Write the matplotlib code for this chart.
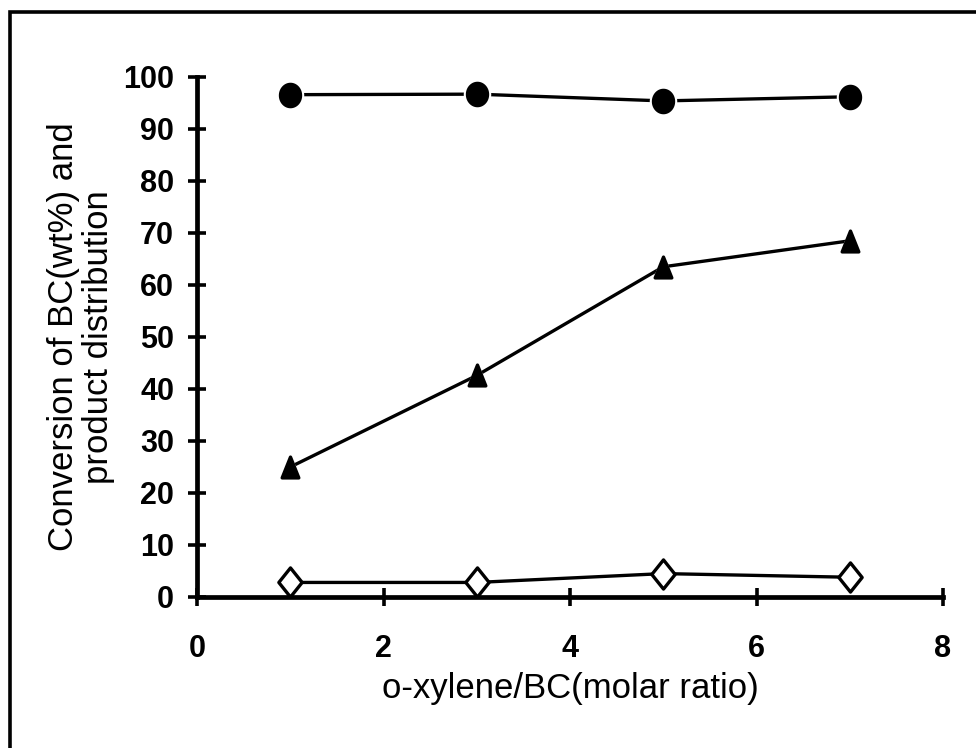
import matplotlib
matplotlib.use("Agg")
import matplotlib.pyplot as plt
from matplotlib.path import Path
from matplotlib.patches import Rectangle
import numpy as np

# Molar ratio o-xylene / BC
ratio = [1, 3, 5, 7]
# Conversion of BC (wt%)
conversion = [96.6, 96.7, 95.4, 96.2]
# Product distribution
product_a = [25.0, 42.6, 63.5, 68.5]
product_b = [2.8, 2.8, 4.5, 3.8]

x_ticks = [0, 2, 4, 6, 8]
y_ticks = list(range(0, 101, 10))

plt.rcParams['font.family'] = ['Liberation Sans', 'DejaVu Sans']

# slightly tall marker shapes
t = np.linspace(0, 2 * np.pi, 60)
ellipse = Path(np.column_stack([0.9 * np.cos(t), np.sin(t)]), closed=True)
tri = Path([(0, 1), (-0.8, -1), (0.8, -1), (0, 1)], closed=True)
diamond = Path([(0, 1), (0.8, 0), (0, -1), (-0.8, 0), (0, 1)], closed=True)

fig = plt.figure(figsize=(9.76, 7.48), dpi=100)
ax = fig.add_axes([197 / 976, 1 - 597 / 748, (943 - 197) / 976, (597 - 77) / 748])

# outer frame
fig.patches.append(Rectangle((10 / 976, -0.2), 1.2, 1.2 - 12 / 748,
                             transform=fig.transFigure, fill=False,
                             edgecolor='black', linewidth=2.6, zorder=0))

series = [
    (conversion, ellipse, 16, 'black', 22),
    (product_a, tri, 15, 'black', 21),
    (product_b, diamond, 21, 'white', 21),
]
for yv, mk, ms, fc, halo in series:
    ax.plot(ratio, yv, color='black', lw=2.4, zorder=2, solid_capstyle='butt')
    if fc == 'black':
        ax.plot(ratio, yv, ls='none', marker=mk, ms=halo, mfc='white',
                mec='white', mew=0, zorder=3)
    ax.plot(ratio, yv, ls='none', marker=mk, ms=ms, mfc=fc, mec='black',
            mew=2.4, zorder=4)

ax.set_xlim(0, 8)
ax.set_ylim(0, 100)
ax.set_xticks(x_ticks)
ax.set_yticks(y_ticks)
for s in ['top', 'right']:
    ax.spines[s].set_visible(False)
for s in ['left', 'bottom']:
    ax.spines[s].set_linewidth(3.4)
ax.tick_params(axis='both', direction='inout', length=13, width=2.6,
               labelsize=22)
ax.tick_params(axis='x', pad=20)
ax.tick_params(axis='y', pad=10)
for lab in ax.get_xticklabels() + ax.get_yticklabels():
    lab.set_fontweight('bold')

ax.set_xlabel('o-xylene/BC(molar ratio)', fontsize=25, labelpad=6)
ax.set_ylabel('Conversion of BC(wt%) and\nproduct distribution', fontsize=25,
              labelpad=6, linespacing=1.05)

fig.savefig('out.png', dpi=100)
